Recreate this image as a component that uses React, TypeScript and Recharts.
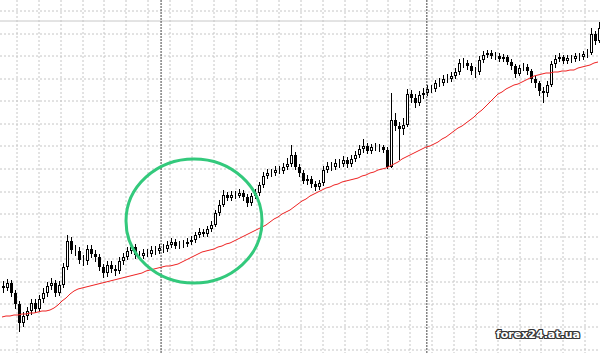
import { ComposedChart, Bar, Line, XAxis, YAxis, CartesianGrid, ReferenceLine, ReferenceDot } from 'recharts';

// Quote history in chart points, oldest bar first. Each bar opens at the previous close.
const firstOpen = 67;

const closes = [
  65, 70, 60, 49, 30, 37, 42, 50, 44, 54,
  60, 67, 70, 60, 68, 86, 112, 103, 102, 93,
  92, 104, 99, 96, 86, 80, 88, 84, 82, 92,
  96, 102, 106, 98, 97, 100, 99, 103, 102, 105,
  104, 108, 111, 107, 108, 109, 111, 113, 118, 121,
  119, 124, 128, 140, 148, 158, 155, 158, 157, 160,
  156, 150, 157, 160, 168, 177, 180, 180, 183, 182,
  186, 189, 198, 186, 180, 172, 174, 169, 166, 170,
  183, 187, 186, 190, 189, 193, 189, 194, 198, 204,
  207, 202, 206, 205, 206, 203, 186, 233, 227, 224,
  228, 259, 255, 250, 258, 260, 264, 264, 270, 270,
  274, 274, 277, 281, 290, 290, 287, 282, 281, 293,
  298, 300, 297, 297, 294, 296, 291, 287, 279, 285,
  286, 282, 274, 270, 262, 260, 268, 289, 294, 296,
  292, 295, 294, 297, 296, 299, 300, 319, 312, 325,
];

const highs = [
  72, 74, 73, 63, 52, 41, 46, 54, 54, 58,
  65, 71, 75, 73, 72, 90, 118, 116, 108, 106,
  98, 108, 108, 103, 99, 89, 92, 92, 88, 96,
  100, 106, 110, 109, 102, 104, 104, 107, 107, 109,
  109, 112, 115, 114, 112, 113, 115, 117, 121, 125,
  124, 127, 132, 143, 153, 163, 161, 162, 162, 164,
  163, 159, 160, 164, 171, 181, 184, 184, 187, 187,
  190, 195, 208, 201, 189, 183, 178, 177, 172, 173,
  187, 191, 191, 194, 194, 197, 196, 198, 202, 208,
  214, 210, 209, 210, 209, 208, 206, 260, 240, 231,
  235, 264, 263, 259, 262, 265, 268, 268, 273, 275,
  278, 279, 281, 285, 294, 295, 293, 290, 286, 297,
  302, 303, 303, 301, 300, 299, 298, 294, 289, 288,
  290, 289, 284, 277, 272, 266, 272, 292, 298, 300,
  298, 298, 298, 300, 300, 302, 304, 325, 322, 331,
];

const lows = [
  60, 62, 56, 44, 21, 26, 33, 38, 40, 41,
  50, 56, 63, 56, 57, 65, 83, 99, 97, 89,
  87, 88, 95, 91, 82, 75, 76, 80, 77, 79,
  88, 93, 99, 94, 93, 94, 96, 96, 98, 99,
  100, 101, 105, 104, 104, 105, 106, 108, 110, 115,
  116, 116, 121, 126, 137, 146, 152, 152, 154, 155,
  152, 146, 147, 154, 157, 165, 174, 176, 177, 179,
  179, 183, 186, 183, 176, 169, 168, 165, 162, 163,
  167, 180, 182, 183, 185, 186, 185, 186, 191, 195,
  200, 199, 199, 202, 201, 200, 184, 185, 222, 193,
  218, 226, 250, 245, 247, 254, 257, 260, 261, 266,
  267, 270, 271, 274, 278, 285, 283, 278, 275, 278,
  290, 295, 294, 293, 291, 291, 288, 283, 275, 277,
  282, 278, 270, 265, 257, 250, 256, 266, 285, 291,
  289, 289, 290, 291, 292, 293, 295, 298, 308, 310,
];

// slow moving average drawn in red
const movingAverage = [
  36, 37, 37, 38, 38, 39, 39, 40, 40, 41,
  42, 42, 43, 45, 48, 52, 55, 59, 62, 64,
  65, 66, 67, 68, 69, 70, 71, 72, 73, 74,
  75, 76, 77, 78, 79, 80, 82, 83, 84, 85,
  86, 87, 87, 88, 89, 91, 93, 95, 97, 99,
  101, 102, 103, 104, 106, 107, 109, 110, 112, 114,
  116, 118, 120, 122, 124, 126, 128, 131, 134, 136,
  139, 141, 143, 146, 149, 152, 154, 157, 159, 161,
  163, 165, 166, 168, 169, 171, 172, 173, 174, 175,
  177, 178, 180, 181, 183, 184, 185, 187, 189, 191,
  194, 196, 198, 200, 202, 204, 206, 207, 209, 211,
  214, 216, 219, 222, 225, 227, 230, 233, 236, 240,
  243, 247, 251, 255, 259, 261, 264, 266, 268, 269,
  271, 273, 275, 277, 278, 279, 280, 280, 281, 281,
  282, 282, 283, 283, 285, 286, 287, 288, 290, 291,
];

// session breaks (bar index where a new period starts)
const separators = [40, 106];
const priceLevel = 332;
const highlight = { index: 48, price: 132 };

const data = closes.map((close, i) => ({
  i,
  open: i === 0 ? firstOpen : closes[i - 1],
  high: highs[i],
  low: lows[i],
  close,
  ma: movingAverage[i],
}));

const W = 600;
const H = 353;

const gridX = Array.from({ length: 28 }, (_, k) => Math.round(17 + 21.85 * k));
const gridY = Array.from({ length: 16 }, (_, k) => Math.round(11 + 22.57 * k));

const Candle = (props: any) => {
  const { x, y, width, height, payload } = props;
  const { open, close, high, low } = payload;
  const top = Math.min(y, y + height);
  const span = Math.abs(height);
  const perUnit = span / (high - low || 1);
  const cx = Math.round(x + width / 2);
  const bodyTop = Math.round(top + (high - Math.max(open, close)) * perUnit);
  const bodyBottom = Math.round(top + (high - Math.min(open, close)) * perUnit);
  const up = close >= open;
  return (
    <g>
      <line x1={cx + 0.5} x2={cx + 0.5} y1={top} y2={top + span} stroke="#000" strokeWidth={1} />
      <rect
        x={cx - 0.5}
        y={bodyTop + 0.5}
        width={2}
        height={Math.max(bodyBottom - bodyTop - 1, 0)}
        fill={up ? '#fff' : '#000'}
        stroke="#000"
        strokeWidth={1}
      />
    </g>
  );
};

const Ring = (props: any) => (
  <ellipse cx={props.cx} cy={props.cy} rx={68} ry={62} fill="none" stroke="#33c97c" strokeWidth={3} />
);

export default function App() {
  return (
    <div style={{ position: 'absolute', left: 0, top: 0, width: W, height: H, background: '#fff', overflow: 'hidden' }}>
      <ComposedChart width={W} height={H} data={data} margin={{ top: 0, right: 0, bottom: 0, left: 0 }}>
        <CartesianGrid
          stroke="#c6c6c6"
          strokeDasharray="2 2"
          horizontalPoints={gridY}
          verticalPoints={gridX}
        />
        <XAxis dataKey="i" hide />
        <XAxis xAxisId="t" type="number" domain={[0, closes.length]} hide />
        <YAxis domain={[0, H]} hide />
        <ReferenceLine y={priceLevel} stroke="#c8c8c8" strokeWidth={1} />
        {separators.map((s) => (
          <ReferenceLine key={s} x={s} xAxisId="t" stroke="#444" strokeDasharray="2 1" strokeWidth={1} />
        ))}
        <Bar dataKey={(d: any) => [d.low, d.high]} barSize={3} shape={Candle} isAnimationActive={false} />
        <Line
          dataKey="ma"
          type="linear"
          stroke="#ee2222"
          strokeWidth={1}
          dot={false}
          activeDot={false}
          isAnimationActive={false}
        />
        <ReferenceDot x={highlight.index} y={highlight.price} r={60} shape={Ring} />
      </ComposedChart>
      <div
        style={{
          position: 'absolute',
          left: 496,
          top: 328,
          fontFamily: '"DejaVu Sans", sans-serif',
          fontWeight: 'bold',
          fontSize: 11,
          color: '#fff',
          textShadow:
            '1px 0 0 #333, -1px 0 0 #333, 0 1px 0 #333, 0 -1px 0 #333, 1px 1px 0 #333, -1px -1px 0 #333, 1px -1px 0 #333, -1px 1px 0 #333',
        }}
      >
        forex24.at.ua
      </div>
    </div>
  );
}
